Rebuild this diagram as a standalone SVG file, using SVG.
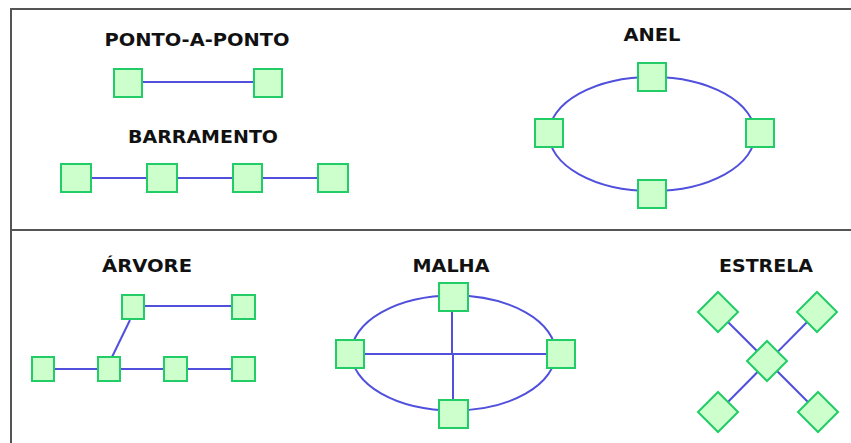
<svg xmlns="http://www.w3.org/2000/svg" width="851" height="443" viewBox="0 0 851 443">
<style>
.t{font-family:"DejaVu Sans","Verdana",sans-serif;font-weight:bold;font-size:17.5px;fill:#111;text-anchor:middle}
.n{fill:#ccffcc;stroke:#22cc66;stroke-width:2}
.c{stroke:#5050dd;stroke-width:2;fill:none}
.f{stroke:#555;stroke-width:2;fill:none}
</style>
<rect width="851" height="443" fill="#fff"/>
<g id="frame">
<line class="f" x1="11" y1="9" x2="851" y2="9"/>
<line class="f" x1="11" y1="8" x2="11" y2="443"/>
<line class="f" x1="11" y1="230" x2="851" y2="230" stroke="#888"/>
</g>
<g id="labels">
<text class="t" x="197" y="46" textLength="185" lengthAdjust="spacingAndGlyphs">PONTO-A-PONTO</text>
<text class="t" x="203" y="143" textLength="150" lengthAdjust="spacingAndGlyphs">BARRAMENTO</text>
<text class="t" x="652" y="41" textLength="57" lengthAdjust="spacingAndGlyphs">ANEL</text>
<text class="t" x="147" y="272" textLength="90" lengthAdjust="spacingAndGlyphs">ÁRVORE</text>
<text class="t" x="451" y="272" textLength="77" lengthAdjust="spacingAndGlyphs">MALHA</text>
<text class="t" x="766" y="272" textLength="94" lengthAdjust="spacingAndGlyphs">ESTRELA</text>
</g>
<g id="connectors">
<line class="c" x1="142" y1="82" x2="254" y2="82"/>
<line class="c" x1="91" y1="178" x2="318" y2="178"/>
<ellipse class="c" cx="652" cy="134" rx="103" ry="57"/>
<line class="c" x1="144" y1="306" x2="232" y2="306"/>
<line class="c" x1="54" y1="369" x2="232" y2="369"/>
<line class="c" x1="130" y1="320" x2="112" y2="357"/>
<ellipse class="c" cx="453.5" cy="353" rx="102" ry="57.5"/>
<line class="c" x1="364" y1="354" x2="547" y2="354"/>
<line class="c" x1="452" y1="311" x2="452" y2="354"/>
<line class="c" x1="453" y1="354" x2="453" y2="400"/>
<line class="c" x1="718" y1="312" x2="818" y2="412" stroke-width="1.5"/>
<line class="c" x1="817" y1="312" x2="718" y2="412" stroke-width="1.5"/>
</g>
<g id="p2p-1"><rect class="n" x="114" y="69" width="28" height="28"/></g>
<g id="p2p-2"><rect class="n" x="254" y="69" width="28" height="28"/></g>
<g id="bus-1"><rect class="n" x="61" y="164" width="30" height="28"/></g>
<g id="bus-2"><rect class="n" x="147" y="164" width="30" height="28"/></g>
<g id="bus-3"><rect class="n" x="233" y="164" width="29" height="28"/></g>
<g id="bus-4"><rect class="n" x="318" y="164" width="30" height="28"/></g>
<g id="ring-top"><rect class="n" x="638" y="63" width="28" height="28"/></g>
<g id="ring-left"><rect class="n" x="535" y="119" width="28" height="28"/></g>
<g id="ring-right"><rect class="n" x="746" y="119" width="28" height="28"/></g>
<g id="ring-bottom"><rect class="n" x="638" y="180" width="28" height="28"/></g>
<g id="tree-1"><rect class="n" x="122" y="295" width="22" height="24"/></g>
<g id="tree-2"><rect class="n" x="232" y="295" width="23" height="24"/></g>
<g id="tree-3"><rect class="n" x="32" y="357" width="22" height="24"/></g>
<g id="tree-4"><rect class="n" x="98" y="357" width="22" height="24"/></g>
<g id="tree-5"><rect class="n" x="164" y="357" width="23" height="24"/></g>
<g id="tree-6"><rect class="n" x="232" y="357" width="23" height="24"/></g>
<g id="mesh-top"><rect class="n" x="439" y="283" width="29" height="28"/></g>
<g id="mesh-left"><rect class="n" x="336" y="340" width="28" height="28"/></g>
<g id="mesh-right"><rect class="n" x="547" y="340" width="28" height="28"/></g>
<g id="mesh-bottom"><rect class="n" x="439" y="400" width="29" height="28"/></g>
<g id="star-tl"><polygon class="n" points="718,292 738,312 718,332 698,312"/></g>
<g id="star-tr"><polygon class="n" points="817,292 837,312 817,332 797,312"/></g>
<g id="star-c"><polygon class="n" points="767,341 787,361 767,381 747,361"/></g>
<g id="star-bl"><polygon class="n" points="718,392 738,412 718,432 698,412"/></g>
<g id="star-br"><polygon class="n" points="818,392 838,412 818,432 798,412"/></g>
</svg>
